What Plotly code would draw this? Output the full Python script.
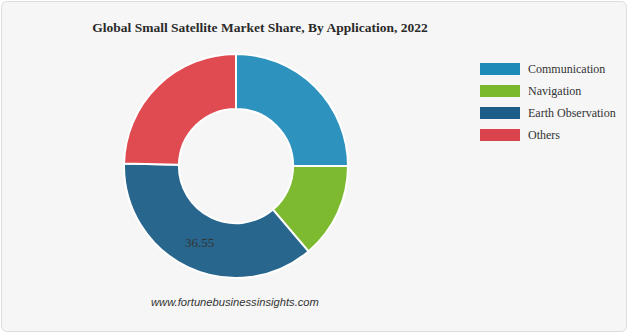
import plotly.graph_objects as go

# ---- data ----
labels = ["Communication", "Navigation", "Earth Observation", "Others"]
values = [25.0, 13.8, 36.55, 24.65]
shown_labels = ["", "", "36.55", ""]
colors = ["#2d92bd", "#7dba2f", "#28668d", "#df4b50"]
swatch_colors = ["#1d8ab8", "#7ab92c", "#1c5e88", "#d9434b"]

title_text = "Global Small Satellite Market Share, By Application, 2022"
source_text = "www.fortunebusinessinsights.com"

W, H = 628, 333
cx, cy, r = 236, 166, 112

fig = go.Figure()
fig.add_trace(go.Pie(
    labels=labels,
    values=values,
    text=shown_labels,
    textinfo="text",
    textposition="inside",
    insidetextorientation="horizontal",
    textfont=dict(family="Liberation Serif", size=13, color="#333333"),
    marker=dict(colors=colors, line=dict(color="#ffffff", width=2)),
    hole=0.51,
    sort=False,
    direction="clockwise",
    rotation=0,
    showlegend=False,
    hoverinfo="label+value",
    domain=dict(x=[(cx - r) / W, (cx + r) / W],
                y=[(H - cy - r) / H, (H - cy + r) / H]),
))


def px(x):
    return x / W


def py(y):
    return 1 - y / H


# card background with rounded corners
x0, y0, x1, y1, rad = 1.5, 1.5, W - 1.5, H - 1.5, 6
path = (f"M {px(x0+rad)},{py(y0)} L {px(x1-rad)},{py(y0)} Q {px(x1)},{py(y0)} {px(x1)},{py(y0+rad)} "
        f"L {px(x1)},{py(y1-rad)} Q {px(x1)},{py(y1)} {px(x1-rad)},{py(y1)} "
        f"L {px(x0+rad)},{py(y1)} Q {px(x0)},{py(y1)} {px(x0)},{py(y1-rad)} "
        f"L {px(x0)},{py(y0+rad)} Q {px(x0)},{py(y0)} {px(x0+rad)},{py(y0)} Z")
shapes = [dict(type="path", path=path, xref="paper", yref="paper",
               fillcolor="#f6f6f6", line=dict(color="#dddddd", width=1), layer="below")]

annotations = []
# legend (swatches + labels)
lx0, lx1, ly_top, row_h, sw_h = 480, 520, 63, 22, 12
for i, (lab, col) in enumerate(zip(labels, swatch_colors)):
    top = ly_top + i * row_h
    shapes.append(dict(type="rect", xref="paper", yref="paper",
                       x0=px(lx0), x1=px(lx1), y0=py(top + sw_h), y1=py(top),
                       fillcolor=col, line=dict(width=0), layer="above"))
    annotations.append(dict(text=lab, xref="paper", yref="paper",
                            x=px(525.5), y=py(top + sw_h / 2), xanchor="left", yanchor="middle",
                            showarrow=False,
                            font=dict(family="Liberation Serif", size=12, color="#333333")))

annotations.append(dict(text="<i>" + source_text + "</i>", xref="paper", yref="paper",
                        x=px(235), y=py(302), xanchor="center", yanchor="middle",
                        showarrow=False,
                        font=dict(family="Liberation Sans", size=11.2, color="#333333")))

fig.update_layout(
    width=W, height=H,
    margin=dict(l=0, r=0, t=0, b=0),
    paper_bgcolor="#ffffff",
    plot_bgcolor="#ffffff",
    title=dict(text="<b>" + title_text + "</b>", x=px(260), y=py(27),
               xanchor="center", yanchor="middle",
               font=dict(family="Liberation Serif", size=13.5, color="#2a2a2a")),
    shapes=shapes,
    annotations=annotations,
)

fig.write_html("out.html")
